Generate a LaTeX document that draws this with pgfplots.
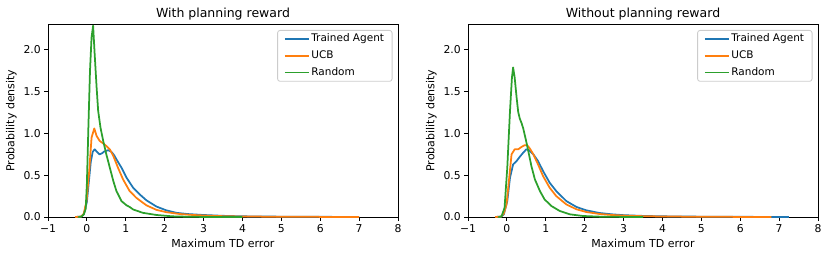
\documentclass[border=0pt]{standalone}
\usepackage{fontspec}
\setmainfont{DejaVu Sans}
\usepackage{pgfplots}
\pgfplotsset{compat=1.18}
\usepackage{pgfplotstable}
\definecolor{tblue}{HTML}{1F77B4}
\definecolor{torange}{HTML}{FF7F0E}
\definecolor{tgreen}{HTML}{2CA02C}

% ---- With planning reward ----
\pgfplotstableread{
x y
-0.30 0
-0.15 0.005
-0.08 0.03
0.00 0.18
0.05 0.42
0.10 0.66
0.15 0.78
0.20 0.81
0.26 0.78
0.32 0.75
0.38 0.76
0.45 0.785
0.55 0.80
0.63 0.78
0.70 0.74
0.76 0.69
0.89 0.59
1.02 0.47
1.19 0.35
1.36 0.27
1.53 0.20
1.79 0.125
2.04 0.08
2.30 0.05
2.60 0.035
3.00 0.024
3.50 0.014
4.00 0.008
5.00 0.004
6.00 0.002
7.00 0.0005
}\blueL
\pgfplotstableread{
x y
-0.30 0
-0.15 0.005
-0.08 0.04
-0.01 0.19
0.06 0.55
0.12 0.95
0.19 1.06
0.25 0.97
0.33 0.91
0.42 0.88
0.50 0.85
0.59 0.81
0.68 0.73
0.80 0.59
0.93 0.45
1.10 0.31
1.27 0.23
1.53 0.14
1.79 0.085
2.04 0.058
2.38 0.036
2.70 0.025
3.00 0.018
3.50 0.010
4.00 0.006
5.00 0.003
6.00 0.0015
7.00 0.0003
}\orangeL
\pgfplotstableread{
x y
-0.22 0
-0.14 0.005
-0.08 0.03
-0.03 0.10
0.00 0.40
0.04 1.10
0.08 1.75
0.12 2.15
0.16 2.29
0.20 1.95
0.25 1.55
0.29 1.27
0.35 1.07
0.42 0.91
0.50 0.75
0.59 0.59
0.68 0.43
0.76 0.31
0.89 0.19
1.02 0.14
1.10 0.12
1.19 0.09
1.44 0.05
1.79 0.024
2.20 0.008
2.60 0.003
3.00 0.001
3.50 0.0003
4.00 0
}\greenL

% ---- Without planning reward ----
\pgfplotstableread{
x y
-0.30 0
-0.15 0.005
-0.08 0.03
0.01 0.19
0.08 0.47
0.16 0.63
0.25 0.67
0.33 0.72
0.42 0.77
0.50 0.81
0.57 0.80
0.68 0.75
0.80 0.67
0.93 0.55
1.10 0.41
1.27 0.31
1.53 0.19
1.79 0.12
2.04 0.08
2.38 0.048
2.70 0.032
3.00 0.022
3.50 0.013
4.00 0.008
5.00 0.004
6.00 0.002
7.25 0.0003
}\blueR
\pgfplotstableread{
x y
-0.30 0
-0.15 0.005
-0.08 0.04
-0.01 0.15
0.06 0.47
0.12 0.75
0.20 0.81
0.29 0.81
0.38 0.84
0.46 0.86
0.52 0.86
0.59 0.82
0.68 0.75
0.80 0.63
0.93 0.49
1.10 0.35
1.27 0.25
1.53 0.15
1.79 0.092
2.04 0.06
2.38 0.036
2.70 0.024
3.00 0.017
3.50 0.010
4.00 0.006
5.00 0.003
6.00 0.0012
6.80 0.0002
}\orangeR
\pgfplotstableread{
x y
-0.22 0
-0.14 0.005
-0.06 0.11
0.01 0.59
0.08 1.27
0.13 1.67
0.16 1.79
0.20 1.67
0.25 1.43
0.29 1.26
0.33 1.18
0.38 1.12
0.42 1.06
0.49 0.92
0.55 0.79
0.63 0.61
0.72 0.45
0.85 0.31
0.97 0.21
1.15 0.13
1.36 0.072
1.62 0.032
1.96 0.012
2.40 0.004
3.00 0.001
3.50 0
}\greenR

\pgfplotsset{kde/.style={
  scale only axis, width=350pt, height=193pt,
  xmin=-1, xmax=8, ymin=0, ymax=2.31,
  xtick={-1,0,1,2,3,4,5,6,7,8},
  xticklabels={−1,0,1,2,3,4,5,6,7,8},
  ytick={0,0.5,1,1.5,2},
  yticklabels={0.0,0.5,1.0,1.5,2.0},
  xtick pos=bottom, ytick pos=left,
  tick align=outside, major tick length=3.7pt,
  tick style={line width=0.85pt, black},
  axis line style={line width=0.85pt},
  tick label style={font=\fontsize{10.8}{12}\selectfont},
  label style={font=\fontsize{11}{12}\selectfont},
  title style={font=\fontsize{12.5}{14}\selectfont, at={(0.5,1)}, anchor=base, yshift=0.5pt},
  xlabel={Maximum TD error},
  ylabel={Probability density},
  every axis plot/.append style={line width=1.75pt, line join=round},
  legend image code/.code={\draw[##1, line width=1.75pt] (0pt,0pt) -- (24pt,0pt);},
  legend cell align=left,
  legend style={at={(rel axis cs:1,1)}, anchor=north east, xshift=-5.5pt, yshift=-6pt,
    draw=black!20, line width=0.85pt, rounded corners=2.5pt, fill=white,
    font=\fontsize{10.5}{12}\selectfont,
    inner xsep=6.5pt, inner ysep=2pt, row sep=3.2pt,
    nodes={inner sep=1.5pt, text height=8pt, text depth=2.5pt},
    /tikz/every even column/.append style={column sep=7pt}},
}}

\begin{document}
\begin{tikzpicture}
\useasboundingbox (0,0) rectangle (830pt,258pt);
\begin{axis}[kde, at={(48pt,41pt)}, anchor=south west, title={With planning reward}]
\addplot[tblue] table[x=x,y=y] {\blueL};
\addplot[torange] table[x=x,y=y] {\orangeL};
\addplot[tgreen] table[x=x,y=y] {\greenL};
\legend{Trained Agent,UCB,Random}
\end{axis}
\begin{axis}[kde, at={(468pt,41pt)}, anchor=south west, title={Without planning reward}]
\addplot[tblue] table[x=x,y=y] {\blueR};
\addplot[torange] table[x=x,y=y] {\orangeR};
\addplot[tgreen] table[x=x,y=y] {\greenR};
\legend{Trained Agent,UCB,Random}
\end{axis}
\end{tikzpicture}
\end{document}
